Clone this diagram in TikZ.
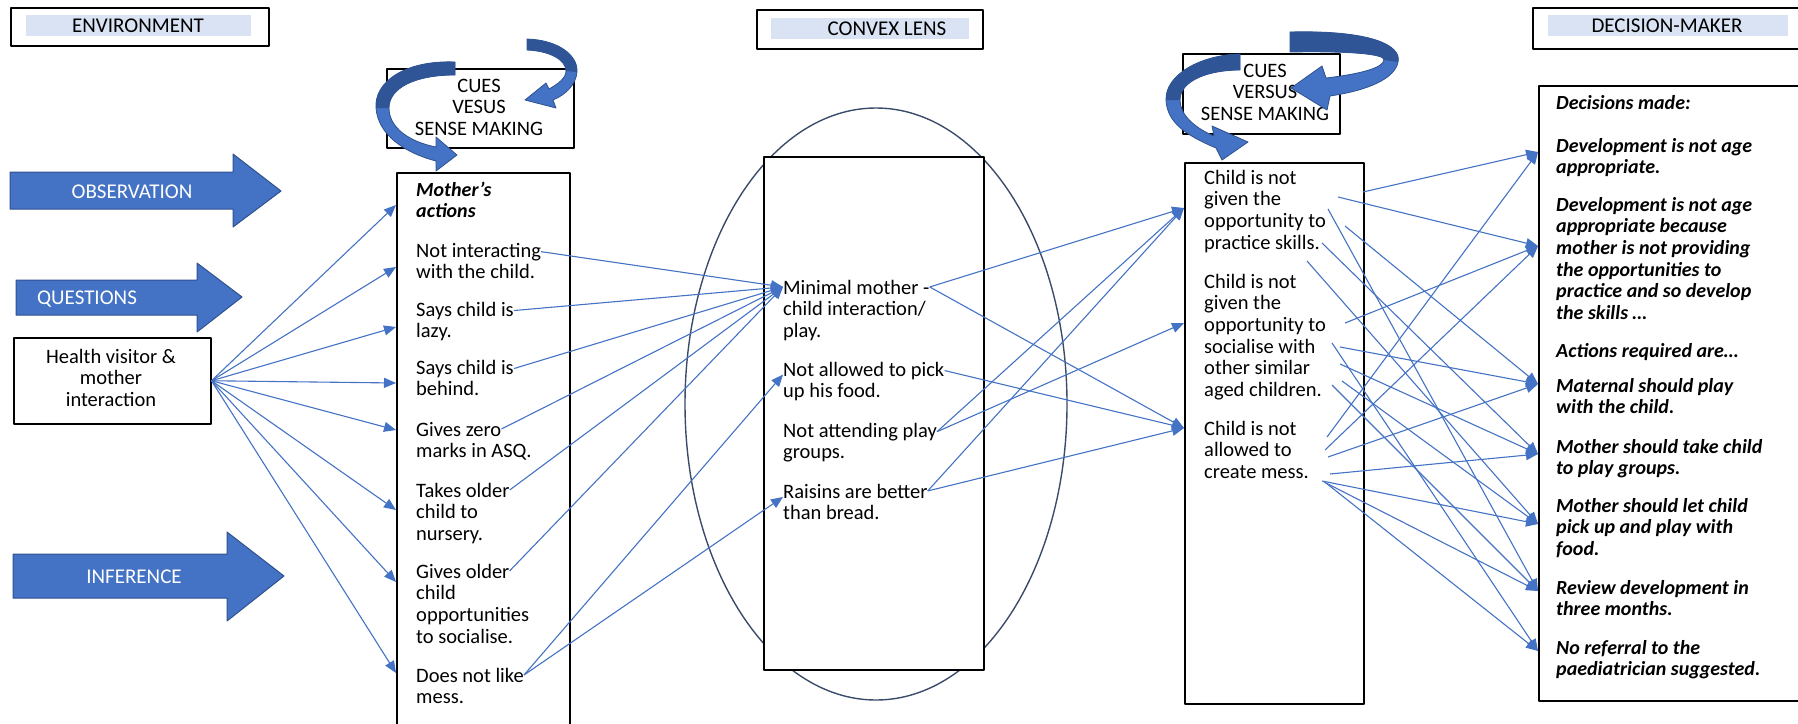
\documentclass[tikz,border=0pt]{standalone}
\usepackage{fontspec}
\setmainfont{Carlito}
\usetikzlibrary{arrows.meta,calc}
\definecolor{accent}{HTML}{4472C4}
\definecolor{accentdark}{HTML}{2F528F}
\definecolor{ribbon}{HTML}{2F5597}
\definecolor{titleband}{HTML}{DAE3F3}
\definecolor{lensline}{HTML}{3B4C6B}

% one node per text line: #1 name prefix, #2 x, #3 first baseline, #4 style, #5 lines
\newcommand\textlines[5]{%
  \foreach \t [count=\i] in {#5}
    \node[#4] (#1-\i) at (#2, {#3+21.7*(\i-1)}) {\t};}

\begin{document}
\begin{tikzpicture}[x=1pt,y=-1pt,line join=round,
  frame/.style={draw=black,line width=1.5pt,inner sep=0pt,anchor=north west},
  link/.style={draw=accent,line width=1.1pt,-{Triangle[length=12pt,width=10pt]}},
  txt/.style={anchor=base west,inner sep=0pt,font=\fontsize{20.5}{24}\selectfont,text=black},
  ctxt/.style={txt,anchor=base},
  head/.style={ctxt,font=\fontsize{21}{24}\selectfont},
  dec/.style={txt,font=\fontsize{20}{24}\selectfont\bfseries\itshape},
  wtxt/.style={head,text=white},
  blockarrow/.style={fill=accent,draw=accentdark,line width=1pt},
  ribbonfront/.style={fill=accent,draw=accentdark,line width=0.8pt},
  ribbonback/.style={fill=ribbon},
  lens/.style={draw=lensline,line width=1.4pt},
]
\useasboundingbox (0,0) rectangle (1798,723);
\clip (0,0) rectangle (1798,723);

% ---------- title boxes ----------
\node[frame,minimum width=258pt,minimum height=38pt] (envbox) at (10,7) {};
\fill[titleband] (26,15) rectangle (251,36);
\node[head] (envtitle) at (138,32) {ENVIRONMENT};

\node[frame,minimum width=226pt,minimum height=39pt] (lensbox) at (756,9) {};
\fill[titleband] (771,18) rectangle (969,39);
\node[head] (lenstitle) at (887,35) {CONVEX LENS};

\node[frame,minimum width=280pt,minimum height=41pt] (dmbox) at (1532,7) {};
\fill[titleband] (1548,15) rectangle (1788,36);
\node[head] (dmtitle) at (1667,32) {DECISION-MAKER};

% ---------- block arrows ----------
\filldraw[blockarrow] (10,172) -- (233,172) -- (233,154) -- (281,191) -- (233,227) -- (233,209) -- (10,209) -- cycle;
\node[wtxt] (obs) at (132,198) {OBSERVATION};
\filldraw[blockarrow] (16,280) -- (197,280) -- (197,263) -- (242,297) -- (197,332) -- (197,315) -- (16,315) -- cycle;
\node[wtxt] (que) at (87,304) {QUESTIONS};
\filldraw[blockarrow] (13,554) -- (227,554) -- (227,532) -- (284,576) -- (227,621) -- (227,598) -- (13,598) -- cycle;
\node[wtxt] (inf) at (134,583) {INFERENCE};

% ---------- health visitor box ----------
\node[frame,minimum width=197pt,minimum height=86pt] (hv) at (13,337) {};
\textlines{hvt}{111}{363}{ctxt}{Health visitor \&,mother,interaction}

% ---------- cues boxes ----------
\node[frame,minimum width=187pt,minimum height=79pt] (cuesL) at (386,68) {};
\textlines{cl}{479}{92}{ctxt}{CUES,VESUS,SENSE MAKING}
\node[frame,minimum width=157pt,minimum height=80pt] (cuesR) at (1182,53) {};
\textlines{cr}{1265}{77}{ctxt}{CUES,VERSUS,SENSE MAKING}

% ---------- mother's actions ----------
\node[frame,minimum width=173pt,minimum height=570pt] (mom) at (396,172) {};
\textlines{m0}{416}{196}{dec}{Mother’s,actions}
\textlines{m1}{416}{257}{txt}{Not interacting,with the child.}
\textlines{m2}{416}{316}{txt}{Says child is,lazy.}
\textlines{m3}{416}{374}{txt}{Says child is,behind.}
\textlines{m4}{416}{436}{txt}{Gives zero,marks in ASQ.}
\textlines{m5}{416}{497}{txt}{Takes older,child to,nursery.}
\textlines{m6}{416}{578}{txt}{Gives older,child,opportunities,to socialise.}
\textlines{m7}{416}{682}{txt}{Does not like,mess.}

% ---------- convex lens ----------
\draw[lens] (876,404) ellipse [x radius=191pt,y radius=296pt];
\node[frame,fill=white,minimum width=220pt,minimum height=513pt] (lb) at (763,156) {};
\textlines{l1}{783}{294}{txt}{Minimal mother -,child interaction/,play.}
\textlines{l2}{783}{376}{txt}{Not allowed to pick,up his food.}
\textlines{l3}{783}{437}{txt}{Not attending play,groups.}
\textlines{l4}{783}{498}{txt}{Raisins are better,than bread.}

% ---------- interpretation box ----------
\node[frame,minimum width=179pt,minimum height=541pt] (rm) at (1184,162) {};
\textlines{r1}{1204}{184}{txt}{Child is not,given the,opportunity to,practice skills.}
\textlines{r2}{1204}{288}{txt}{Child is not,given the,opportunity to,socialise with,other similar,aged children.}
\textlines{r3}{1204}{435}{txt}{Child is not,allowed to,create mess.}

% ---------- decisions ----------
\node[frame,minimum width=280pt,minimum height=615pt] (dm) at (1538,85) {};
\textlines{d0}{1556}{109}{dec}{Decisions made:}
\textlines{d1}{1556}{152}{dec}{Development is not age,appropriate.}
\textlines{d2}{1556}{211}{dec}{Development is not age,appropriate because,mother is not providing,the opportunities to,practice and so develop,the skills …}
\textlines{d3}{1556}{357}{dec}{Actions required are…}
\textlines{d4}{1556}{392}{dec}{Maternal should play,with the child.}
\textlines{d5}{1556}{453}{dec}{Mother should take child,to play groups.}
\textlines{d6}{1556}{512}{dec}{Mother should let child,pick up and play with,food.}
\textlines{d7}{1556}{594}{dec}{Review development in,three months.}
\textlines{d8}{1556}{654}{dec}{No referral to the,paediatrician suggested.}

% ---------- ribbon arrows around the cues boxes ----------
\filldraw[ribbonfront] (455,62) .. controls (405,60) and (374,82) .. (376,108) .. controls (378,135) and (405,153) .. (436,161) -- (436,171) -- (457,155) -- (436,137) -- (436,147) .. controls (410,142) and (389,128) .. (389,108) .. controls (389,88) and (415,75) .. (455,75) -- cycle;
\fill[ribbonback] (455,62) .. controls (405,60) and (374,82) .. (376,108) -- (389,108) .. controls (389,88) and (415,75) .. (455,75) -- cycle;

\filldraw[ribbonfront] (527,39) .. controls (558,40) and (578,55) .. (577,72) .. controls (576,85) and (565,95) .. (553,100) -- (556,108) -- (525,100) -- (546,83) -- (549,89) .. controls (558,84) and (566,78) .. (566,71) .. controls (566,60) and (550,51) .. (527,50) -- cycle;
\fill[ribbonback] (527,39) .. controls (558,40) and (578,55) .. (577,72) -- (566,71) .. controls (566,60) and (550,51) .. (527,50) -- cycle;

\filldraw[ribbonfront] (1290,32) .. controls (1370,30) and (1402,45) .. (1398,62) .. controls (1395,78) and (1370,90) .. (1330,96) -- (1327,110) -- (1291,88) -- (1322,66) -- (1326,78) .. controls (1360,74) and (1383,68) .. (1384,60) .. controls (1385,54) and (1350,51) .. (1290,52) -- cycle;
\fill[ribbonback] (1290,32) .. controls (1370,30) and (1402,45) .. (1398,62) -- (1384,60) .. controls (1385,54) and (1350,51) .. (1290,52) -- cycle;

\filldraw[ribbonfront] (1240,54) .. controls (1200,55) and (1165,75) .. (1166,100) .. controls (1167,122) and (1185,135) .. (1216,148) -- (1222,160) -- (1248,142) -- (1212,126) -- (1214,136) .. controls (1195,128) and (1180,115) .. (1180,100) .. controls (1180,80) and (1210,70) .. (1240,70) -- cycle;
\fill[ribbonback] (1240,54) .. controls (1200,55) and (1165,75) .. (1166,100) -- (1180,100) .. controls (1180,80) and (1210,70) .. (1240,70) -- cycle;

% ---------- health visitor to mother's actions ----------
\foreach \yy in {205,267,327,383,430,510,582,673}
  \draw[link] (hv.east) -- (mom.west |- 0,\yy);

% ---------- mother's actions to lens ----------
\foreach \s in {m1-1,m2-1,m3-1,m4-1,m5-1,m6-1}
  \draw[link] (\s.east) -- (l1-1.west);
\draw[link] (m7-1.east) -- ([yshift=-4pt]l2-1.west);
\draw[link] (m7-1.east) -- ([yshift=-6pt]l4-1.west);

% ---------- lens to interpretation ----------
\coordinate (rA) at (rm.west |- 0,208);
\coordinate (rB) at (rm.west |- 0,323);
\coordinate (rC) at (rm.west |- 0,428);
\draw[link] (l1-1.east) -- (rA);
\draw[link] (l1-1.east) -- (rC);
\draw[link] (l2-1.east) -- (rC);
\draw[link] (l3-1.east) -- (rA);
\draw[link] (l3-1.east) -- (rB);
\draw[link] (l4-1.east) -- (rA);
\draw[link] (l4-1.east) -- (rC);

% ---------- interpretation to decisions ----------
\foreach \n/\yy in {1/152,2/246,3/384,4/454,5/524,6/591,7/651}
  \coordinate (D\n) at (dm.west |- 0,\yy);
\foreach \x/\yy/\d in {1363/192/1,1338/197/2,1328/209/6,1345/226/3,1322/243/4,1307/261/5,
                      1345/323/2,1332/343/7,1340/347/3,1340/364/4,1342/381/5,1332/385/6,
                      1327/437/1,1325/450/2,1328/457/3,1330/474/4,1322/481/5,1324/482/6,1326/483/7}
  \draw[link] (\x,\yy) -- (D\d);
\end{tikzpicture}
\end{document}
